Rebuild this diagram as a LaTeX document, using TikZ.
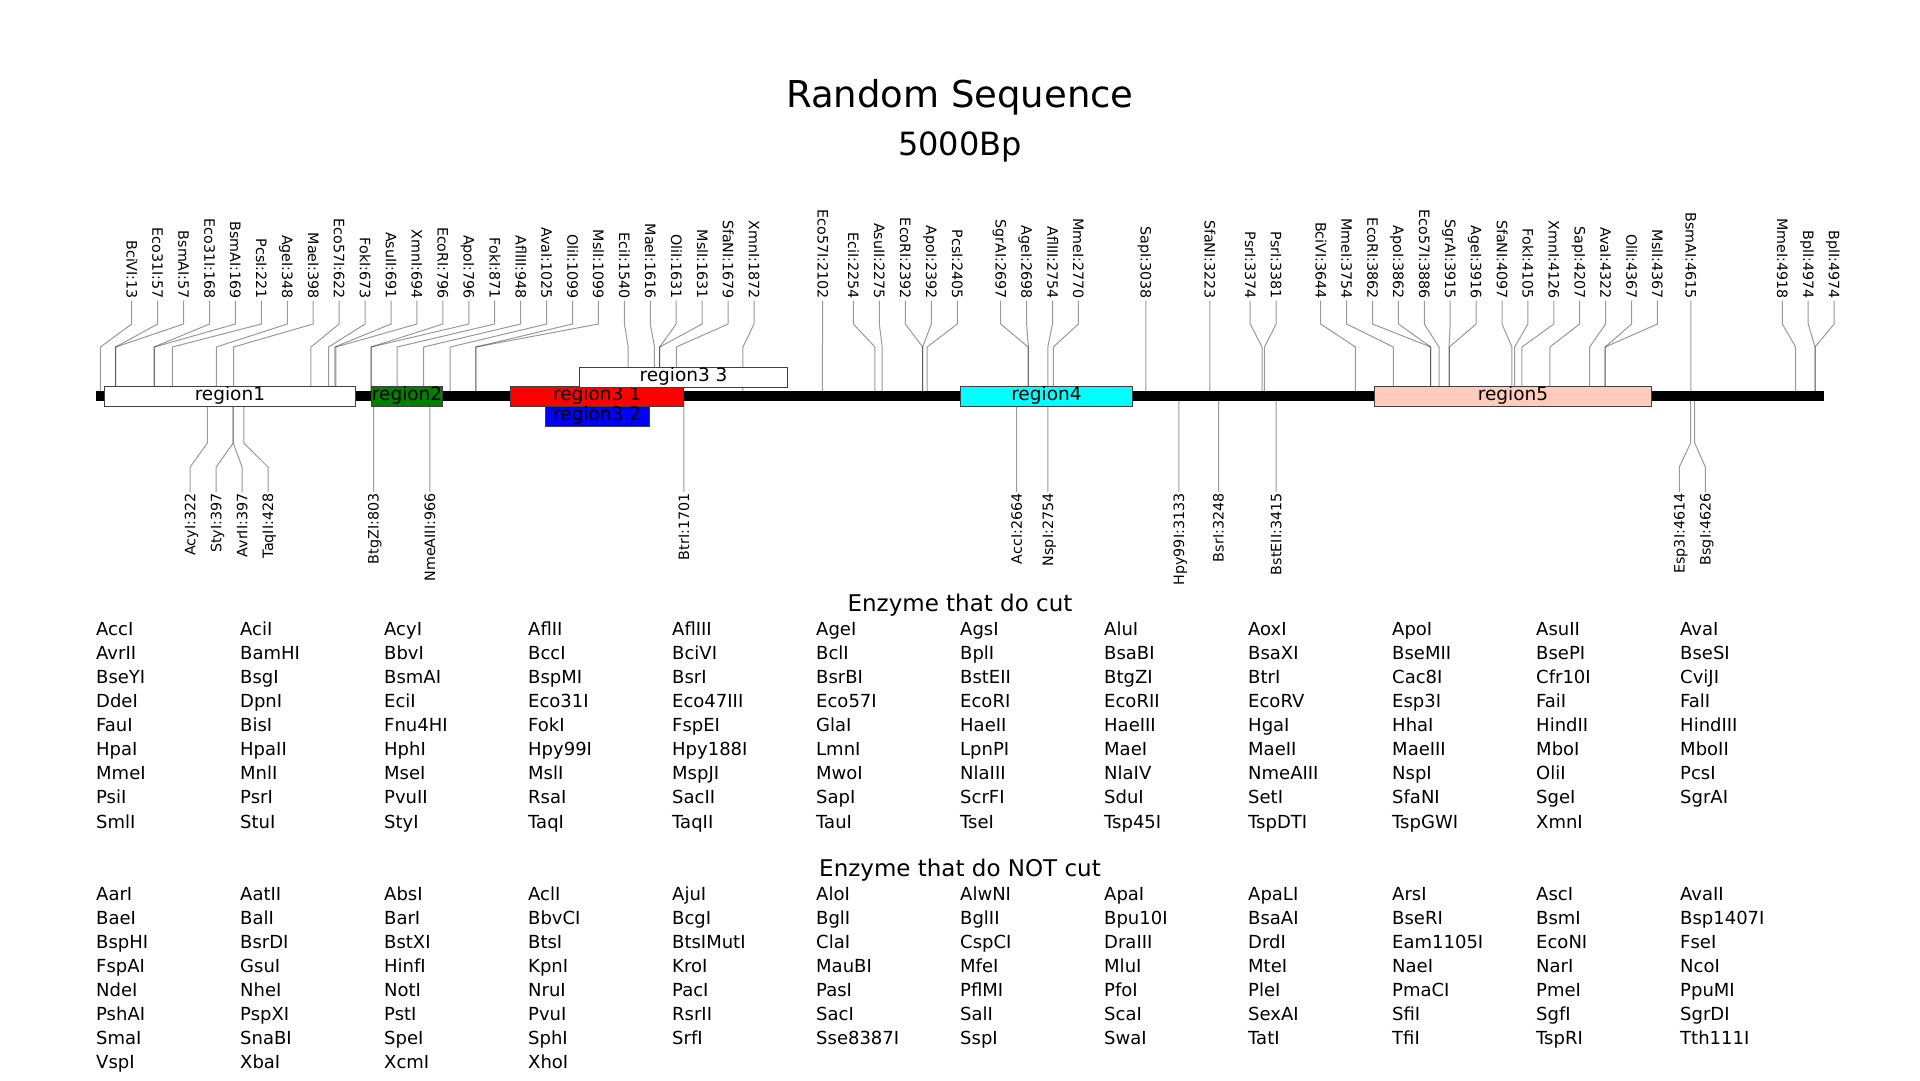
\documentclass[tikz,border=0pt]{standalone}
\usepackage{fontspec}
\setmainfont{DejaVu Sans}
\definecolor{regfive}{RGB}{255,204,187}
\definecolor{regtwo}{RGB}{0,128,0}
\definecolor{regfour}{RGB}{0,255,255}
\definecolor{regred}{RGB}{255,0,0}
\definecolor{regblue}{RGB}{0,0,255}
\begin{document}
\begin{tikzpicture}[x=1pt,y=-1pt,
  conn/.style={draw=black,draw opacity=.4,line width=1pt},
  toplab/.style={rotate=-90,anchor=east,inner sep=0pt,outer sep=1.5pt,font=\fontsize{14.3}{16}\selectfont,text height=10.4pt,text depth=0pt},
  botlab/.style={rotate=90,anchor=east,inner sep=0pt,outer sep=1.5pt,font=\fontsize{14.3}{16}\selectfont,text height=10.4pt,text depth=0pt},
  regbox/.style={draw=black!75,line width=1pt,minimum height=20pt,inner sep=0pt,font=\fontsize{18.5}{20}\selectfont,text height=14pt,text depth=4.4pt},
  enz/.style={anchor=base west,inner sep=0pt,font=\fontsize{18}{20}\selectfont},
  head/.style={anchor=base,inner sep=0pt,font=\fontsize{23}{26}\selectfont}
]
\useasboundingbox[fill=white] (0,0) rectangle (1920,1080);

% title
\node[anchor=base,inner sep=0pt,font=\fontsize{37}{40}\selectfont] (title) at (960,107.3) {Random Sequence};
\node[anchor=base,inner sep=0pt,font=\fontsize{32}{36}\selectfont] (len) at (960,155.3) {5000Bp};

% top site labels and connectors
\foreach \lab/\lx/\p [count=\i] in {
BciVI:13/131.7/13, Eco31I:57/157.6/57, BsmAI:57/183.6/57, Eco31I:168/209.5/168,
BsmAI:169/235.4/169, PcsI:221/261.4/221, AgeI:348/287.3/348, MaeI:398/313.2/398,
Eco57I:622/339.1/622, FokI:673/365.1/673, AsuII:691/391.0/691, XmnI:694/416.9/694,
EcoRI:796/442.9/796, ApoI:796/468.8/796, FokI:871/494.7/871, AflIII:948/520.7/948,
AvaI:1025/546.6/1025, OliI:1099/572.5/1099, MslI:1099/598.4/1099, EciI:1540/624.4/1540,
MaeI:1616/650.3/1616, OliI:1631/676.2/1631, MslI:1631/702.2/1631, SfaNI:1679/728.1/1679,
XmnI:1872/754.0/1872, Eco57I:2102/822.7/2102, EciI:2254/853.3/2254, AsuII:2275/879.3/2275,
EcoRI:2392/905.3/2392, ApoI:2392/931.3/2392, PcsI:2405/957.3/2405, SgrAI:2697/1000.7/2697,
AgeI:2698/1026.6/2698, AflIII:2754/1052.5/2754, MmeI:2770/1078.4/2770, SapI:3038/1145.9/3038,
SfaNI:3223/1209.9/3223, PsrI:3374/1250.2/3374, PsrI:3381/1276.1/3381, BciVI:3644/1320.7/3644,
MmeI:3754/1346.6/3754, EcoRI:3862/1372.5/3862, ApoI:3862/1398.4/3862, Eco57I:3886/1424.3/3886,
SgrAI:3915/1450.2/3915, AgeI:3916/1476.1/3916, SfaNI:4097/1502.0/4097, FokI:4105/1527.9/4105,
XmnI:4126/1553.8/4126, SapI:4207/1579.7/4207, AvaI:4322/1605.6/4322, OliI:4367/1631.5/4367,
MslI:4367/1657.4/4367, BsmAI:4615/1690.9/4615, MmeI:4918/1782.3/4918, BplI:4974/1808.2/4974,
BplI:4974/1834.1/4974}{
  \pgfmathsetmacro\sx{96+0.3456*\p}
  \node[toplab] (t\i) at (\lx,300.5) {\lab};
  \coordinate (tk\i) at (\lx,324);
  \coordinate (ts\i) at (\sx,347);
  \coordinate (tt\i) at (\sx,396);
  \draw[conn] (t\i.east) -- (tk\i) -- (ts\i) -- (tt\i);
}

% bottom site labels and connectors
\foreach \lab/\lx/\p [count=\i] in {
AcyI:322/190.2/322, StyI:397/216.2/397, AvrII:397/242.1/397, TaqII:428/268.0/428,
BtgZI:803/373.5/803, NmeAIII:966/429.9/966, BtrI:1701/683.9/1701, AccI:2664/1016.7/2664,
NspI:2754/1047.8/2754, Hpy99I:3133/1178.8/3133, BsrI:3248/1218.5/3248, BstEII:3415/1276.2/3415,
Esp3I:4614/1679.3/4614, BsgI:4626/1705.3/4626}{
  \pgfmathsetmacro\sx{96+0.3456*\p}
  \node[botlab] (b\i) at (\lx,492) {\lab};
  \coordinate (bt\i) at (\sx,396);
  \coordinate (bs\i) at (\sx,443);
  \coordinate (bk\i) at (\lx,467);
  \draw[conn] (bt\i) -- (bs\i) -- (bk\i) -- (b\i.east);
}

% track
\coordinate (trackL) at (96,396);
\coordinate (trackR) at (1824,396);
\draw[line width=10pt] (trackL) -- (trackR);

% regions
\node[regbox,fill=white,minimum width=250.6pt] (r1) at (229.9,396) {region1};
\node[regbox,fill=regtwo,minimum width=69.1pt] (r2) at (407.05,396) {region2};
\node[regbox,fill=regred,minimum width=172.8pt] (r31) at (597.1,396) {region3 1};
\node[regbox,fill=regblue,minimum width=103.7pt] (r32) at (597.15,416) {region3 2};
\node[regbox,fill=white,minimum width=207.4pt] (r33) at (683.5,377) {region3 3};
\node[regbox,fill=regfour,minimum width=172.8pt] (r4) at (1046.4,396) {region4};
\node[regbox,fill=regfive,minimum width=276.5pt] (r5) at (1512.95,396) {region5};

% enzyme lists
\node[head] (hcut) at (960,611.7) {Enzyme that do cut};
\foreach \e [count=\i from 0] in {
AccI,AciI,AcyI,AflII,AflIII,AgeI,AgsI,AluI,AoxI,ApoI,AsuII,AvaI,
AvrII,BamHI,BbvI,BccI,BciVI,BclI,BplI,BsaBI,BsaXI,BseMII,BsePI,BseSI,
BseYI,BsgI,BsmAI,BspMI,BsrI,BsrBI,BstEII,BtgZI,BtrI,Cac8I,Cfr10I,CviJI,
DdeI,DpnI,EciI,Eco31I,Eco47III,Eco57I,EcoRI,EcoRII,EcoRV,Esp3I,FaiI,FalI,
FauI,BisI,Fnu4HI,FokI,FspEI,GlaI,HaeII,HaeIII,HgaI,HhaI,HindII,HindIII,
HpaI,HpaII,HphI,Hpy99I,Hpy188I,LmnI,LpnPI,MaeI,MaeII,MaeIII,MboI,MboII,
MmeI,MnlI,MseI,MslI,MspJI,MwoI,NlaIII,NlaIV,NmeAIII,NspI,OliI,PcsI,
PsiI,PsrI,PvuII,RsaI,SacII,SapI,ScrFI,SduI,SetI,SfaNI,SgeI,SgrAI,
SmlI,StuI,StyI,TaqI,TaqII,TauI,TseI,Tsp45I,TspDTI,TspGWI,XmnI}{
  \pgfmathtruncatemacro\cc{mod(\i,12)}
  \pgfmathtruncatemacro\rr{div(\i,12)}
  \node[enz] (c\i) at ({96+144*\cc},{635.7+24.04*\rr}) {\e};
}

\node[head] (hnot) at (960,876) {Enzyme that do NOT cut};
\foreach \e [count=\i from 0] in {
AarI,AatII,AbsI,AclI,AjuI,AloI,AlwNI,ApaI,ApaLI,ArsI,AscI,AvaII,
BaeI,BalI,BarI,BbvCI,BcgI,BglI,BglII,Bpu10I,BsaAI,BseRI,BsmI,Bsp1407I,
BspHI,BsrDI,BstXI,BtsI,BtsIMutI,ClaI,CspCI,DraIII,DrdI,Eam1105I,EcoNI,FseI,
FspAI,GsuI,HinfI,KpnI,KroI,MauBI,MfeI,MluI,MteI,NaeI,NarI,NcoI,
NdeI,NheI,NotI,NruI,PacI,PasI,PflMI,PfoI,PleI,PmaCI,PmeI,PpuMI,
PshAI,PspXI,PstI,PvuI,RsrII,SacI,SalI,ScaI,SexAI,SfiI,SgfI,SgrDI,
SmaI,SnaBI,SpeI,SphI,SrfI,Sse8387I,SspI,SwaI,TatI,TfiI,TspRI,Tth111I,
VspI,XbaI,XcmI,XhoI}{
  \pgfmathtruncatemacro\cc{mod(\i,12)}
  \pgfmathtruncatemacro\rr{div(\i,12)}
  \node[enz] (n\i) at ({96+144*\cc},{900+24.04*\rr}) {\e};
}
\end{tikzpicture}
\end{document}
